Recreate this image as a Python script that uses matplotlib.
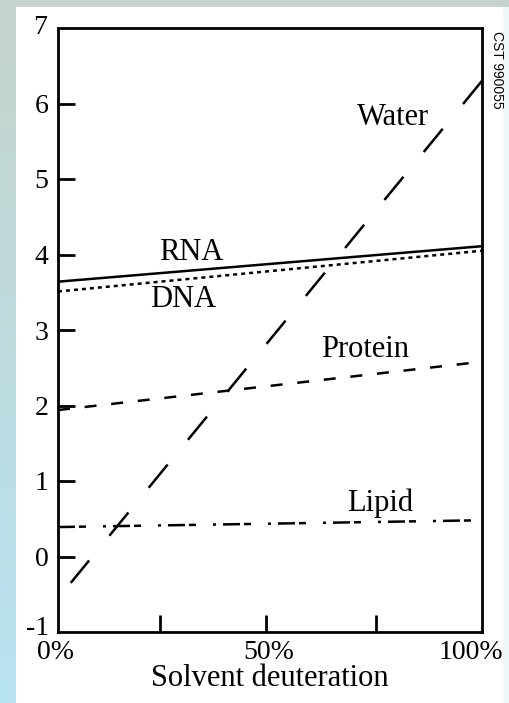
import matplotlib
matplotlib.use("Agg")
import matplotlib.pyplot as plt
import numpy as np
from matplotlib.patches import Rectangle

# deuteration fraction (0 -> 1) and the line end values
water_x = [1.0, 0.03]
water_y = [6.3, -0.35]
rna_x = [0.0, 1.0]
rna_y = [3.64, 4.11]
dna_x = [0.0, 1.0]
dna_y = [3.51, 4.05]
protein_x = [0.0, 1.0]
protein_y = [1.94, 2.58]
lipid_x = [0.0, 1.0]
lipid_y = [0.39, 0.48]

y_ticks = [0, 1, 2, 3, 4, 5, 6]
x_ticks = [0.24, 0.49, 0.75]
x_labels = ["0%", "50%", "100%"]

W, H = 510, 703
fig = plt.figure(figsize=(W / 100, H / 100), dpi=100)

# soft blue/grey backdrop with a white panel
bg = fig.add_axes([0, 0, 1, 1])
top = np.array([0.77, 0.83, 0.80])
bot = np.array([0.72, 0.89, 0.95])
t = np.linspace(0, 1, 64)[:, None]
grad = (top * (1 - t) + bot * t)[:, None, :].repeat(2, axis=1)
bg.imshow(grad, aspect="auto", extent=[0, W, H, 0])
bg.add_patch(Rectangle((503, 7), W - 503, H - 7, color="#eef7fa", lw=0))
bg.add_patch(Rectangle((16, 7), 487, H - 7, color="white", lw=0))
bg.set_xlim(0, W)
bg.set_ylim(H, 0)
bg.axis("off")

ax = fig.add_axes([58 / W, 1 - 632 / H, (482 - 58) / W, (632 - 28) / H])
ax.set_facecolor("none")
ax.set_xlim(0, 1)
ax.set_ylim(-1, 7)

lw = 1.8
ax.plot(water_x, water_y, color="black", lw=lw, dashes=(12, 12.8))
ax.plot(rna_x, rna_y, color="black", lw=lw)
ax.plot(dna_x, dna_y, color="black", lw=lw, dashes=(1.6, 1.6))
ax.plot(protein_x, protein_y, color="black", lw=lw, dashes=(4.8, 5.9))
ax.plot(lipid_x, lipid_y, color="black", lw=lw,
        dashes=(6.8, 1.6, 2.8, 6.8, 1.2, 2.8))

serif = "Liberation Serif"
fs = 22
ax.text(0.314, 4.02, "RNA", fontsize=fs, family=serif, ha="center", va="center")
ax.text(0.295, 3.40, "DNA", fontsize=fs, family=serif, ha="center", va="center")
ax.text(0.724, 2.74, "Protein", fontsize=fs, family=serif, ha="center", va="center")
ax.text(0.79, 5.81, "Water", fontsize=fs, family=serif, ha="center", va="center")
ax.text(0.759, 0.71, "Lipid", fontsize=fs, family=serif, ha="center", va="center")

for s in ax.spines.values():
    s.set_linewidth(2)

tfs = 20
ax.set_yticks(y_ticks)
ax.set_yticklabels([str(v) for v in y_ticks], family=serif, fontsize=tfs)
ax.set_xticks(x_ticks)
ax.set_xticklabels([])
ax.tick_params(axis="both", direction="in", width=2, length=12, pad=3)
ax.tick_params(axis="y", pad=7)

# corner labels sit outside the ticked range
ax.text(-0.025, 7, "7", ha="right", va="center", family=serif, fontsize=tfs)
ax.text(-0.02, -0.95, "-1", ha="right", va="center", family=serif, fontsize=tfs)
ax.text(-0.005, -1.27, x_labels[0], ha="center", va="center",
        family=serif, fontsize=tfs)
ax.text(0.498, -1.27, x_labels[1], ha="center", va="center",
        family=serif, fontsize=tfs)
ax.text(1.05, -1.27, x_labels[2], ha="right", va="center",
        family=serif, fontsize=tfs)
ax.text(0.5, -1.62, "Solvent deuteration", ha="center", va="center",
        family=serif, fontsize=22)

fig.text(497 / W, 1 - 70 / H, "CST 990055", rotation=-90, ha="center",
         va="center", fontsize=10, family="Liberation Sans")

fig.savefig("out.png", dpi=100)
